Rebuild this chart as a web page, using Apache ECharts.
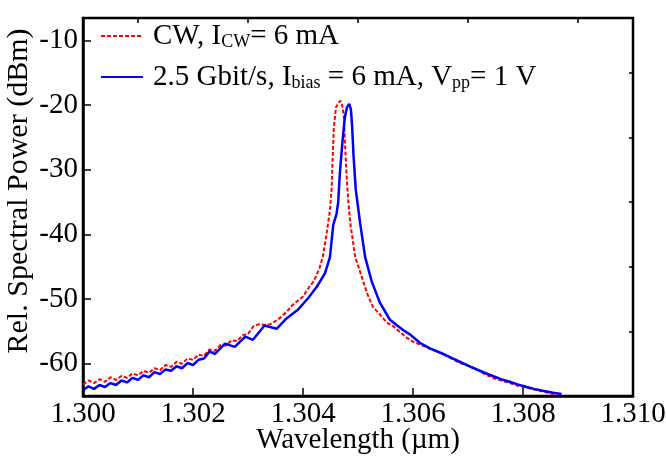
<!DOCTYPE html>
<html><head><meta charset="utf-8">
<script src="https://cdn.jsdelivr.net/npm/echarts@6/dist/echarts.min.js"></script>
<style>html,body{margin:0;padding:0;background:#fff}#c{width:666px;height:459px}</style>
</head><body><div id="c"></div>
<script>
// Wavelength (µm) and relative spectral power (dBm)
var cwX = [1.3000,1.3001,1.3002,1.3003,1.3004,1.3005,1.3006,1.3007,1.3008,1.3009,1.3010,1.3011,1.3012,1.3013,1.3014,1.3015,1.3016,1.3017,1.3018,1.3019,1.3020,1.3021,1.3022,1.3023,1.3024,1.3025,1.3026,1.3027,1.3028,1.3029,1.3030,1.3031,1.3032,1.3033,1.3034,1.3035,1.3036,1.3037,1.3038,1.3039,1.3040,1.3041,1.3042,1.3043,1.30436,1.30443,1.30449,1.30452,1.30454,1.30456,1.30460,1.30464,1.30468,1.30471,1.30474,1.30476,1.30479,1.30482,1.30486,1.30495,1.30507,1.30516,1.30527,1.30540,1.30552,1.30564,1.30575,1.30589,1.30600,1.30612,1.30625,1.30640,1.30655,1.30670,1.30685,1.30700,1.30716,1.30730,1.30745,1.30760,1.30776,1.30790,1.30807,1.30820,1.30836,1.30850,1.30865];
var cwY = [-63.2,-62.6,-63.0,-62.4,-62.8,-62.1,-62.5,-61.9,-62.2,-61.5,-61.8,-61.1,-61.4,-60.7,-61.0,-60.2,-60.5,-59.7,-60.0,-59.2,-59.4,-58.6,-58.8,-57.8,-58.0,-57.1,-57.2,-56.4,-56.5,-55.6,-55.4,-54.2,-53.9,-54.0,-53.9,-53.4,-52.8,-52.0,-51.0,-50.3,-49.6,-48.3,-47.2,-45.2,-43.5,-39.8,-36.2,-33.0,-28.0,-23.5,-20.3,-19.7,-19.3,-19.9,-21.5,-25.4,-30.5,-34.5,-38.3,-43.5,-46.6,-49.0,-51.2,-52.4,-53.6,-54.2,-55.0,-56.0,-56.6,-57.0,-57.5,-58.0,-58.5,-59.2,-59.9,-60.3,-60.9,-61.6,-62.2,-62.6,-63.0,-63.4,-63.7,-64.0,-64.3,-64.6,-64.8];
var modX = [1.3000,1.3001,1.3002,1.3003,1.3004,1.3005,1.3006,1.3007,1.3008,1.3009,1.3010,1.3011,1.3012,1.3013,1.3014,1.3015,1.3016,1.3017,1.3018,1.3019,1.3020,1.3021,1.3022,1.3023,1.3024,1.30258,1.30276,1.30295,1.30309,1.3033,1.30352,1.3037,1.3039,1.3041,1.30425,1.3044,1.30449,1.30455,1.30461,1.30464,1.30467,1.30472,1.30476,1.30480,1.30484,1.30487,1.30489,1.30492,1.30496,1.30504,1.30513,1.30525,1.30540,1.30558,1.30570,1.30582,1.30595,1.30613,1.30630,1.30655,1.30670,1.30685,1.30700,1.30716,1.30730,1.30745,1.30760,1.30776,1.30790,1.30807,1.30820,1.30836,1.30855,1.30870];
var modY = [-64.1,-63.5,-63.9,-63.3,-63.6,-63.0,-63.3,-62.6,-62.9,-62.2,-62.5,-61.8,-62.1,-61.3,-61.6,-60.9,-61.1,-60.4,-60.7,-59.9,-60.2,-59.4,-59.2,-58.1,-58.5,-56.9,-57.4,-55.8,-56.3,-54.1,-54.6,-53.0,-51.7,-49.8,-48.1,-46.0,-43.5,-38.5,-36.8,-35.0,-30.5,-25.4,-21.9,-20.3,-19.8,-20.6,-22.8,-28.0,-33.1,-38.3,-43.5,-47.3,-50.6,-53.2,-54.0,-54.8,-55.5,-56.8,-57.6,-58.5,-59.1,-59.7,-60.3,-60.9,-61.4,-61.9,-62.4,-62.8,-63.2,-63.6,-63.9,-64.2,-64.5,-64.7];
var xMajorTicks = [1.300,1.302,1.304,1.306,1.308,1.310];
var xMinorTicks = [1.301,1.303,1.305,1.307,1.309];
var yMajorTicks = [-60,-50,-40,-30,-20,-10];
var yMinorTicks = [-65,-55,-45,-35,-25,-15];
var seriesNames = ['CW', 'Mod'];

function zip(a, b) { return a.map(function (v, i) { return [v, b[i]]; }); }
var F = 'Liberation Serif';
var FS = 29;
var chart = echarts.init(document.getElementById('c'), null, {renderer: 'canvas'});
var xBase = {type: 'value', min: 1.300, max: 1.310, splitLine: {show: false}};
var yBase = {type: 'value', min: -65, max: -6.5, splitLine: {show: false}};
chart.setOption({
  animation: false,
  backgroundColor: '#fff',
  grid: {left: 83, right: 33, top: 18, bottom: 63, show: true, borderColor: '#000', borderWidth: 2.5,
    containLabel: false, outerBoundsMode: 'none'},
  legend: {
    left: 100, top: 21, padding: 0, orient: 'vertical', itemWidth: 42, itemHeight: 14, itemGap: 11,
    data: seriesNames,
    itemStyle: {opacity: 0},
    formatter: function (n) {
      return n === 'CW' ? '{a|CW, I}{s|CW}{a|= 6 mA}' : '{a|2.5 Gbit/s, I}{s|bias}{a| = 6 mA, V}{s|pp}{a|= 1 V}';
    },
    textStyle: {
      padding: [0, 0, 0, 5],
      rich: {
        a: {fontFamily: F, fontSize: FS, color: '#000', lineHeight: 28},
        s: {fontFamily: F, fontSize: 18, color: '#000', lineHeight: 28, padding: [12, 0, 0, 0]}
      }
    }
  },
  xAxis: [
    Object.assign({}, xBase, {
      name: 'Wavelength (\u00b5m)', nameLocation: 'middle', nameGap: 30, nameMoveOverlap: false,
      nameTextStyle: {fontFamily: F, fontSize: FS, color: '#000'},
      axisLine: {show: true, lineStyle: {color: '#000', width: 2.5}},
      axisTick: {show: true, inside: true, length: 8, lineStyle: {color: '#000', width: 1.5}, customValues: xMajorTicks},
      axisLabel: {show: true, margin: 4, fontFamily: F, fontSize: FS, color: '#000', customValues: xMajorTicks,
        formatter: function (v) { return v.toFixed(3); }}
    }),
    Object.assign({}, xBase, {
      axisLine: {show: false}, axisLabel: {show: false},
      axisTick: {show: true, inside: true, length: 5, lineStyle: {color: '#000', width: 1.5}, customValues: xMinorTicks}
    })
  ],
  yAxis: [
    Object.assign({}, yBase, {
      name: 'Rel. Spectral Power (dBm)', nameLocation: 'middle', nameGap: 49, nameMoveOverlap: false,
      nameTextStyle: {fontFamily: F, fontSize: 30, color: '#000', padding: [0, 0, 0, 32]},
      axisLine: {show: true, lineStyle: {color: '#000', width: 2.5}},
      axisTick: {show: true, inside: true, length: 8, lineStyle: {color: '#000', width: 1.5}, customValues: yMajorTicks},
      axisLabel: {show: true, margin: 5, fontFamily: F, fontSize: FS, color: '#000', customValues: yMajorTicks}
    }),
    Object.assign({}, yBase, {
      axisLine: {show: false}, axisLabel: {show: false},
      axisTick: {show: true, inside: true, length: 4, lineStyle: {color: '#000', width: 1.5}, customValues: yMinorTicks}
    })
  ],
  series: [
    {name: 'CW', type: 'line', data: zip(cwX, cwY), symbol: 'none', smooth: false, color: '#ff0000',
      lineStyle: {color: '#ff0000', width: 2, type: [4, 2]}},
    {name: 'Mod', type: 'line', data: zip(modX, modY), symbol: 'none', smooth: false, color: '#0000ff',
      lineStyle: {color: '#0000ff', width: 2.5}}
  ]
});
</script></body></html>
